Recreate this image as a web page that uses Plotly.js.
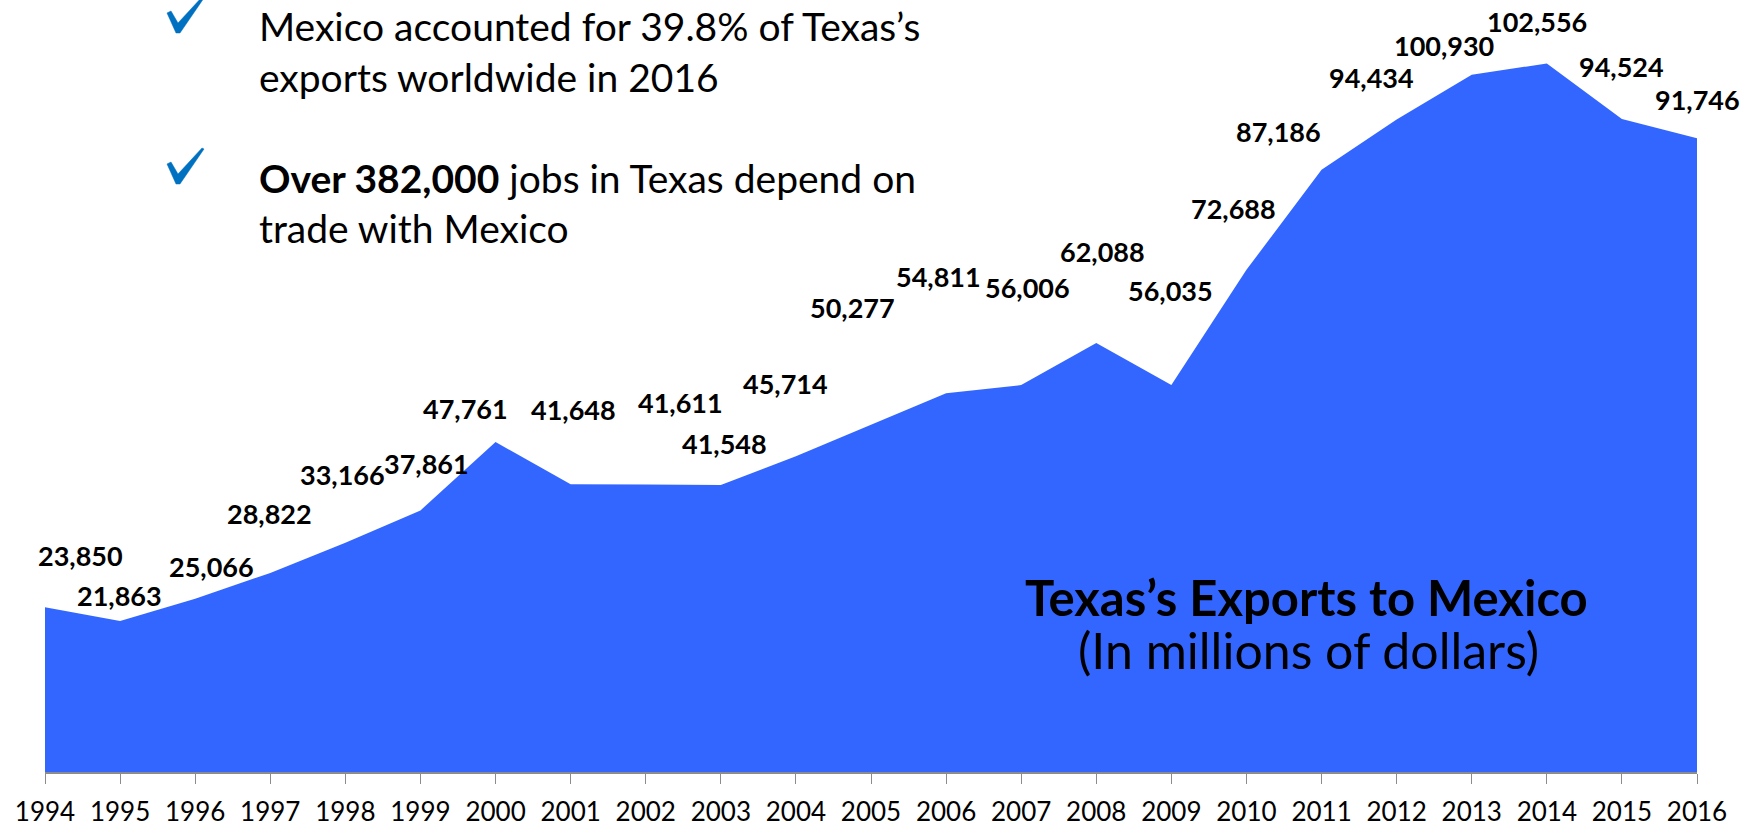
<!DOCTYPE html>
<html>
<head>
<meta charset="utf-8">
<script src="https://cdn.plot.ly/plotly-3.0.1.min.js"></script>
<style>
  html, body { margin: 0; padding: 0; background: #ffffff; }
  #chart { width: 1748px; height: 829px; }
</style>
</head>
<body>
<div id="chart"></div>
<script>
// ---- Data ----
const years = [1994, 1995, 1996, 1997, 1998, 1999, 2000, 2001, 2002, 2003, 2004, 2005,
               2006, 2007, 2008, 2009, 2010, 2011, 2012, 2013, 2014, 2015, 2016];
const exportsToMexico = [23850, 21863, 25066, 28822, 33166, 37861, 47761, 41648, 41611, 41548, 45714, 50277,
                         54811, 56006, 62088, 56035, 72688, 87186, 94434, 100930, 102556, 94524, 91746];
const tickLabels = years.map(String);

const chartTitle = "Texas’s Exports to Mexico";
const chartSubtitle = "(In millions of dollars)";
const bulletLines = [
  "Mexico accounted for 39.8% of Texas’s",
  "exports worldwide in 2016",
  "<b>Over 382,000</b> jobs in Texas depend on",
  "trade with Mexico"
];

// ---- Label placement (pixel offsets of each value label from its point) ----
const labelDx = [35, -1, 16, -1, -3, 6, -30, 3, 35, 4, -10, -19, -8, 6, 6, -1, -13, -43, -25, -28, -10, 0, 0];
const labelDy = [-52, -25, -32, -59, -68, -47, -34, -75, -82, -41, -73, -117, -117, -98, -92, -94, -61, -38, -42, -29, -42, -52, -39];

// ---- Layout geometry ----
const W = 1748, H = 829;
const M = { l: 45, r: 51, t: 10, b: 57 };
const plotH = H - M.t - M.b;
const plotW = W - M.l - M.r;
const px2x = (px) => (px - M.l) / plotW;
const px2y = (py) => (H - M.b - py) / plotH;

const FONT = "Lato, 'Open Sans', sans-serif";

const annotations = [];
years.forEach((yr, i) => {
  annotations.push({
    xref: 'x', yref: 'y', x: yr, y: exportsToMexico[i],
    text: exportsToMexico[i].toLocaleString('en-US'),
    showarrow: false, xanchor: 'center', yanchor: 'middle',
    xshift: labelDx[i], yshift: -labelDy[i],
    font: { family: FONT, size: 27, color: '#000000', weight: 700 }
  });
});

// bullet text lines
const bulletY = [26, 77, 178, 228];
bulletLines.forEach((t, i) => {
  annotations.push({
    xref: 'paper', yref: 'paper', x: px2x(257), y: px2y(bulletY[i]),
    text: t, showarrow: false, xanchor: 'left', yanchor: 'middle',
    font: { family: FONT, size: 39, color: '#000000' }
  });
});

// chart title inside area
annotations.push({
  xref: 'paper', yref: 'paper', x: px2x(1306), y: px2y(597),
  text: chartTitle, showarrow: false, xanchor: 'center', yanchor: 'middle',
  font: { family: FONT, size: 49, color: '#000000', weight: 700 }
});
annotations.push({
  xref: 'paper', yref: 'paper', x: px2x(1308), y: px2y(650),
  text: chartSubtitle, showarrow: false, xanchor: 'center', yanchor: 'middle',
  font: { family: FONT, size: 50, color: '#000000' }
});

// calligraphic check-mark shapes (pixel outline relative to the bottom tip)
const checkOutline = [[-10, -19], [-6, -21], [1, -9], [25, -35], [27, -34], [3, 1], [-1, 1]];
function checkPath(bx, by) {
  return checkOutline.map((p, i) =>
    (i === 0 ? 'M' : 'L') + px2x(bx + p[0]).toFixed(5) + ',' + px2y(by + p[1]).toFixed(5)
  ).join(' ') + ' Z';
}
const shapes = [[177, 32], [177, 183]].map(([bx, by]) => ({
  type: 'path', xref: 'paper', yref: 'paper', path: checkPath(bx, by),
  fillcolor: '#0070C0', line: { width: 0.5, color: '#0070C0' }, layer: 'above'
}));

const trace = {
  x: years, y: exportsToMexico,
  type: 'scatter', mode: 'lines',
  fill: 'tozeroy', fillcolor: '#3366FF',
  line: { width: 0, color: '#3366FF' },
  hoverinfo: 'skip'
};

const layout = {
  width: W, height: H,
  margin: M,
  paper_bgcolor: '#ffffff', plot_bgcolor: '#ffffff',
  showlegend: false,
  xaxis: {
    range: [1994, 2016], tickmode: 'array', tickvals: years, ticktext: tickLabels,
    showgrid: false, zeroline: false,
    showline: true, linecolor: '#8c8c8c', linewidth: 2,
    ticks: 'outside', ticklen: 10, tickwidth: 1, tickcolor: '#8c8c8c',
    ticklabelstandoff: 6,
    tickfont: { family: FONT, size: 26, color: '#000000' },
    fixedrange: true
  },
  yaxis: {
    range: [0, 110300], visible: false, showgrid: false, zeroline: false, fixedrange: true
  },
  shapes: shapes,
  annotations: annotations
};

Plotly.newPlot('chart', [trace], layout, { displayModeBar: false, staticPlot: true });
</script>
</body>
</html>
